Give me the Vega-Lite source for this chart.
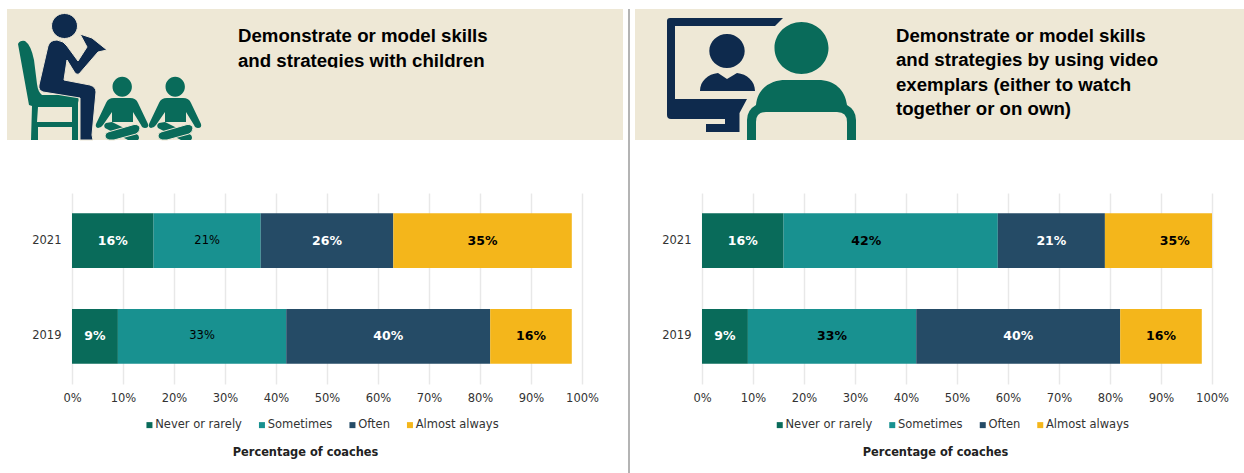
{
"$schema":"https://vega.github.io/schema/vega-lite/v6.json",
"padding":{"left":7,"top":9,"right":0,"bottom":0},
"background":"white",
"config":{"view":{"stroke":null},"font":"DejaVu Sans","concat":{"spacing":5}},
"resolve":{"scale":{"color":"independent"},"legend":{"color":"independent"}},
"datasets":{
"barsA":[
{"year":"2021","response":"Never or rarely","rank":1,"value":16,"label":"16%","labelAt":8},
{"year":"2021","response":"Sometimes","rank":2,"value":21,"label":"21%","labelAt":26.5},
{"year":"2021","response":"Often","rank":3,"value":26,"label":"26%","labelAt":50},
{"year":"2021","response":"Almost always","rank":4,"value":35,"label":"35%","labelAt":80.5},
{"year":"2019","response":"Never or rarely","rank":1,"value":9,"label":"9%","labelAt":4.5},
{"year":"2019","response":"Sometimes","rank":2,"value":33,"label":"33%","labelAt":25.5},
{"year":"2019","response":"Often","rank":3,"value":40,"label":"40%","labelAt":62},
{"year":"2019","response":"Almost always","rank":4,"value":16,"label":"16%","labelAt":90}],
"barsB":[
{"year":"2021","response":"Never or rarely","rank":1,"value":16,"label":"16%","labelAt":8},
{"year":"2021","response":"Sometimes","rank":2,"value":42,"label":"42%","labelAt":32.2},
{"year":"2021","response":"Often","rank":3,"value":21,"label":"21%","labelAt":68.5},
{"year":"2021","response":"Almost always","rank":4,"value":35,"label":"35%","labelAt":92.7},
{"year":"2019","response":"Never or rarely","rank":1,"value":9,"label":"9%","labelAt":4.5},
{"year":"2019","response":"Sometimes","rank":2,"value":33,"label":"33%","labelAt":25.5},
{"year":"2019","response":"Often","rank":3,"value":40,"label":"40%","labelAt":62},
{"year":"2019","response":"Almost always","rank":4,"value":16,"label":"16%","labelAt":90}]
},
"hconcat":[
{"spacing":51,"resolve":{"scale":{"color":"independent"},"legend":{"color":"independent"}},"vconcat":[
 {"width":616,"height":131,"view":{"fill":"#EEE8D6"},
  "layer":[
   {"data":{"values":[{"a":93,"b":66}]},"mark":{"type":"point","filled":true,"opacity":1,"size":4,"color":"#096B5A","strokeWidth":0,
    "shape":"M-82,-31 Q-80,-35 -75,-34 Q-69,-30 -66,-15 L-63,9 Q-62,17 -58,20 L-25,20 Q-20,21 -22,28 L-22,31 L-22,65 L-28,65 L-28,52 L-62,52 L-62,65 L-69,65 L-68,31 L-71,30 Z M-62,32 L-63,47 L-28,47 L-28,32 Z M12.5,11.7 A9.7,10 0 1,1 31.9,11.7 A9.7,10 0 1,1 12.5,11.7 Z M14,23 L30,23 Q36,23 38,28 L48,49 Q49,53 45,53 Q42,53 41,50 L33,37 L33,47 L12,47 L12,37 L3,50 Q1,53 -2,53 Q-5,52 -4,49 L6,28 Q8,23 14,23 Z M6,48 L12,47 L38,60 Q40,63 38,65 L28,65 L5,53 Q3,50 6,48 Z M65.5,11.7 A9.7,10 0 1,1 84.9,11.7 A9.7,10 0 1,1 65.5,11.7 Z M67,23 L83,23 Q89,23 91,28 L101,49 Q102,53 98,53 Q95,53 94,50 L86,37 L86,47 L65,47 L65,37 L56,50 Q54,53 51,53 Q48,52 49,49 L59,28 Q61,23 67,23 Z M59,48 L65,47 L91,60 Q93,63 91,65 L81,65 L58,53 Q56,50 59,48 Z"},
    "encoding":{"x":{"field":"a","type":"quantitative","scale":{"domain":[0,616]},"axis":null},"y":{"field":"b","type":"quantitative","scale":{"domain":[0,131],"reverse":true},"axis":null}}},
   {"data":{"values":[{"a":93,"b":66}]},"mark":{"type":"point","filled":true,"opacity":1,"size":4,"color":"#096B5A","stroke":"#EEE8D6","strokeWidth":1,
    "shape":"M8,57 L34,49.5 Q39,49 40,53 Q40,57 36,59 L14,65 L9,65 Q5,64 5,61 Q5,58 8,57 Z M61,57 L87,49.5 Q92,49 93,53 Q93,57 89,59 L67,65 L62,65 Q58,64 58,61 Q58,58 61,57 Z"},
    "encoding":{"x":{"field":"a","type":"quantitative","scale":{"domain":[0,616]},"axis":null},"y":{"field":"b","type":"quantitative","scale":{"domain":[0,131],"reverse":true},"axis":null}}},
   {"data":{"values":[{"a":93,"b":66}]},"mark":{"type":"point","filled":true,"opacity":1,"size":4,"color":"#0E2A4D","stroke":"#EEE8D6","strokeWidth":1,
    "shape":"M-48.5,-49 A13,12.5 0 1,1 -22.5,-49 A13,12.5 0 1,1 -48.5,-49 Z M-52,-29 Q-50,-35 -43,-35 Q-36,-34 -33,-29 L-22,-14 L-13,-28 L-20,-41 L-8,-37 L7,-25 L-2,-23 L-21,-1 Q-23,0 -25,-2 L-33,-15 L-36,5 L-10,10 Q-4,12 -4,17 L-8,60 L-7,65 L-20,65 L-20,23 L-57,17 Q-62,15 -61,10 Z"},
    "encoding":{"x":{"field":"a","type":"quantitative","scale":{"domain":[0,616]},"axis":null},"y":{"field":"b","type":"quantitative","scale":{"domain":[0,131],"reverse":true},"axis":null}}},
   {"data":{"values":[{"a":231,"b":33,"line":"Demonstrate or model skills"},{"a":231,"b":57.5,"line":"and strategies with children"}]},
    "mark":{"type":"text","align":"left","baseline":"alphabetic","font":"Liberation Sans","fontWeight":"bold","fontSize":18.65,"color":"#000000"},
    "encoding":{"text":{"field":"line"},"x":{"field":"a","type":"quantitative","scale":{"domain":[0,616]},"axis":null},"y":{"field":"b","type":"quantitative","scale":{"domain":[0,131],"reverse":true},"axis":null}}},
   {"data":{"values":[{"a":231,"a2":482,"b":58.8,"b2":64}]},"mark":{"type":"rect","color":"#EEE8D6"},
    "encoding":{"x":{"field":"a","type":"quantitative","scale":{"domain":[0,616]},"axis":null},"x2":{"field":"a2"},"y":{"field":"b","type":"quantitative","scale":{"domain":[0,131],"reverse":true},"axis":null},"y2":{"field":"b2"}}}
  ]},
 {"width":616,"height":191,"data":{"name":"barsA"},
  "encoding":{"y":{"field":"year","type":"nominal","title":null,"sort":["2021","2019"],"scale":{"paddingInner":0.427,"paddingOuter":0.21},
    "axis":{"ticks":false,"domain":false,"labelFontSize":11.5,"labelColor":"#333333","labelPadding":-54,"labelAngle":0}}},
  "layer":[
   {"mark":{"type":"bar"},
    "encoding":{
     "x":{"field":"value","type":"quantitative","stack":"zero","scale":{"domain":[0,100],"range":[65,575],"clamp":true},"title":"Percentage of coaches",
       "axis":{"values":[0,10,20,30,40,50,60,70,80,90,100],"labelExpr":"datum.value+'%'","ticks":false,"domain":false,"grid":true,"gridColor":"#E8E8E8","gridWidth":1.5,"labelFontSize":11.5,"labelColor":"#333333","labelPadding":8.5,"labelFlush":false,"titleFontSize":11.4,"titleFontWeight":"bold","titleColor":"#222222","titleX":298,"titleY":68,"titleBaseline":"middle"}},
     "color":{"field":"response","type":"nominal","sort":["Never or rarely","Sometimes","Often","Almost always"],
       "scale":{"domain":["Never or rarely","Sometimes","Often","Almost always"],"range":["#096B5A","#189190","#254B66","#F4B61B"]},
       "legend":{"title":null,"orient":"none","legendX":136.7,"legendY":226,"direction":"horizontal","symbolType":"square","symbolSize":36,"symbolStrokeWidth":0,"labelFontSize":11.5,"labelColor":"#333333","labelOffset":0,"columnPadding":13.5,
         "encode":{"symbols":{"update":{"fill":{"signal":"datum.value==='Never or rarely'?'#096B5A':datum.value==='Sometimes'?'#4BB0C8':datum.value==='Often'?'#254B66':'#F4B61B'"},"opacity":{"value":1}}}}}},
     "order":{"field":"rank"}}},
   {"transform":[{"filter":"datum.response!=='Sometimes'"}],"mark":{"type":"text","fontWeight":"bold","fontSize":12.5},
    "encoding":{"x":{"field":"labelAt","type":"quantitative"},"text":{"field":"label"},
     "color":{"condition":{"test":"datum.response==='Never or rarely'||datum.response==='Often'","value":"#FFFFFF"},"value":"#000000"}}},
   {"transform":[{"filter":"datum.response==='Sometimes'"}],"mark":{"type":"text","fontSize":11.5,"color":"#000000"},
    "encoding":{"x":{"field":"labelAt","type":"quantitative"},"text":{"field":"label"}}}
  ]}
]},
{"width":2,"height":464,"data":{"values":[{"a":0,"b":1}]},"mark":{"type":"rect","color":"#B4B4B4"},
 "encoding":{"x":{"field":"a","type":"quantitative","scale":{"domain":[0,1]},"axis":null},"x2":{"field":"b"},"y":{"field":"a","type":"quantitative","scale":{"domain":[0,1]},"axis":null},"y2":{"field":"b"}}},
{"spacing":53,"resolve":{"scale":{"color":"independent"},"legend":{"color":"independent"}},"vconcat":[
 {"width":609,"height":131,"view":{"fill":"#EEE8D6"},
  "layer":[
   {"data":{"values":[{"a":125,"b":66}]},"mark":{"type":"point","filled":true,"opacity":1,"size":4,"color":"#0E2A4D","strokeWidth":0,
    "shape":"M-93,-54 Q-93,-57 -90,-57 L23,-57 L15,-49 L-85,-49 L-85,24 L-13,24 L-20.5,38 L-20.5,57 L-54,57 L-54,49 L-35,49 L-35,44 L-89,44 Q-93,44 -93,40 Z M-50.7,-24 A17.7,17 0 1,1 -15.3,-24 A17.7,17 0 1,1 -50.7,-24 Z M-60,16 C-60,6 -52,-1 -42,-2 L-33,4 L-23,-2 C-13,-1 -5,6 -5,16 Z"},
    "encoding":{"x":{"field":"a","type":"quantitative","scale":{"domain":[0,609]},"axis":null},"y":{"field":"b","type":"quantitative","scale":{"domain":[0,131],"reverse":true},"axis":null}}},
   {"data":{"values":[{"a":125,"b":66}]},"mark":{"type":"point","filled":true,"opacity":1,"size":4,"color":"#096B5A","strokeWidth":0,
    "shape":"M14.5,-27 A27,26 0 1,1 68.5,-27 A27,26 0 1,1 14.5,-27 Z M-13,65 L-13,45 Q-13,35 -4,30 C-2,10 15,5 25,5 L58,5 C75,5 85,15 87,30 Q96,35 96,45 L96,65 L87,65 L87,47 Q87,37 77,37 L6,37 Q-4,37 -4,47 L-4,65 Z"},
    "encoding":{"x":{"field":"a","type":"quantitative","scale":{"domain":[0,609]},"axis":null},"y":{"field":"b","type":"quantitative","scale":{"domain":[0,131],"reverse":true},"axis":null}}},
   {"data":{"values":[{"a":261,"b":33,"line":"Demonstrate or model skills"},{"a":261,"b":57.3,"line":"and strategies by using video"},{"a":261,"b":81.6,"line":"exemplars (either to watch"},{"a":261,"b":106,"line":"together or on own)"}]},
    "mark":{"type":"text","align":"left","baseline":"alphabetic","font":"Liberation Sans","fontWeight":"bold","fontSize":18.65,"color":"#000000"},
    "encoding":{"text":{"field":"line"},"x":{"field":"a","type":"quantitative","scale":{"domain":[0,609]},"axis":null},"y":{"field":"b","type":"quantitative","scale":{"domain":[0,131],"reverse":true},"axis":null}}}
  ]},
 {"width":609,"height":191,"data":{"name":"barsB"},
  "encoding":{"y":{"field":"year","type":"nominal","title":null,"sort":["2021","2019"],"scale":{"paddingInner":0.427,"paddingOuter":0.21},
    "axis":{"ticks":false,"domain":false,"labelFontSize":11.5,"labelColor":"#333333","labelPadding":-56,"labelAngle":0}}},
  "layer":[
   {"mark":{"type":"bar"},
    "encoding":{
     "x":{"field":"value","type":"quantitative","stack":"zero","scale":{"domain":[0,100],"range":[67,577],"clamp":true},"title":"Percentage of coaches",
       "axis":{"values":[0,10,20,30,40,50,60,70,80,90,100],"labelExpr":"datum.value+'%'","ticks":false,"domain":false,"grid":true,"gridColor":"#E8E8E8","gridWidth":1.5,"labelFontSize":11.5,"labelColor":"#333333","labelPadding":8.5,"labelFlush":false,"titleFontSize":11.4,"titleFontWeight":"bold","titleColor":"#222222","titleX":300,"titleY":68,"titleBaseline":"middle"}},
     "color":{"field":"response","type":"nominal","sort":["Never or rarely","Sometimes","Often","Almost always"],
       "scale":{"domain":["Never or rarely","Sometimes","Often","Almost always"],"range":["#096B5A","#189190","#254B66","#F4B61B"]},
       "legend":{"title":null,"orient":"none","legendX":139,"legendY":226,"direction":"horizontal","symbolType":"square","symbolSize":36,"symbolStrokeWidth":0,"labelFontSize":11.5,"labelColor":"#333333","labelOffset":0,"columnPadding":13.5,
         "encode":{"symbols":{"update":{"fill":{"signal":"datum.value==='Never or rarely'?'#096B5A':datum.value==='Sometimes'?'#189190':datum.value==='Often'?'#254B66':'#F4B61B'"},"opacity":{"value":1}}}}}},
     "order":{"field":"rank"}}},
   {"mark":{"type":"text","fontWeight":"bold","fontSize":12.5},
    "encoding":{"x":{"field":"labelAt","type":"quantitative"},"text":{"field":"label"},
     "color":{"condition":{"test":"datum.response==='Never or rarely'||datum.response==='Often'","value":"#FFFFFF"},"value":"#000000"}}}
  ]}
]}
]
}
